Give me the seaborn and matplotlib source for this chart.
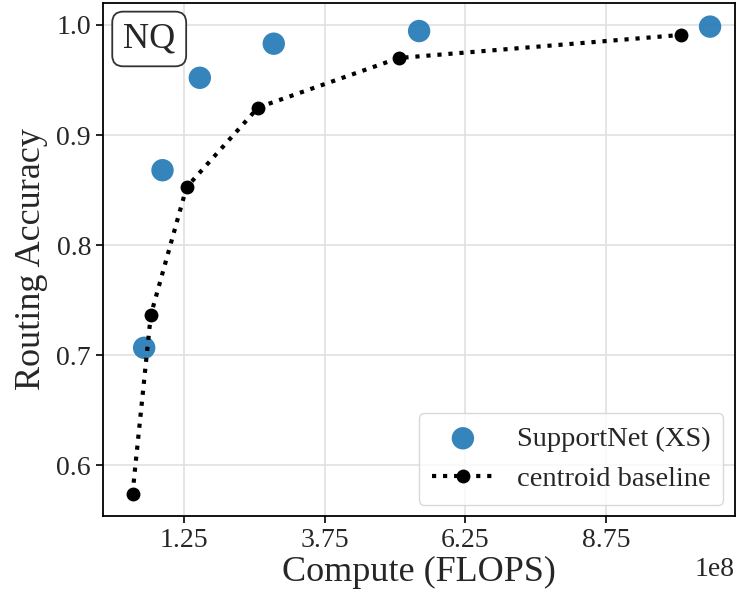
import matplotlib
matplotlib.use("Agg")
import matplotlib.pyplot as plt
import seaborn as sns
import numpy as np
import pandas as pd

# Data (compute in FLOPS, accuracy)
supportnet_flops = [0.544e8, 0.870e8, 1.533e8, 2.847e8, 5.43e8, 10.60e8]
supportnet_acc = [0.7066, 0.868, 0.952, 0.983, 0.9945, 0.9985]
centroid_flops = [0.337e8, 0.662e8, 1.297e8, 2.569e8, 5.07e8, 10.09e8]
centroid_acc = [0.574, 0.7364, 0.8525, 0.925, 0.970, 0.991]
x_ticks = [1.25e8, 3.75e8, 6.25e8, 8.75e8]
y_ticks = [0.6, 0.7, 0.8, 0.9, 1.0]

sns.set_theme(style="ticks")
plt.rcParams['font.family'] = ['Liberation Serif', 'DejaVu Serif']
plt.rcParams['mathtext.fontset'] = 'stix'

fig, ax = plt.subplots(figsize=(7.4, 5.96), dpi=100)

df_s = pd.DataFrame({"flops": supportnet_flops, "acc": supportnet_acc})
df_c = pd.DataFrame({"flops": centroid_flops, "acc": centroid_acc})

sns.scatterplot(data=df_s, x="flops", y="acc", ax=ax, s=260, color="#1f77b4",
                alpha=0.9, edgecolor="none", label="SupportNet (XS)", zorder=3)
sns.lineplot(data=df_c, x="flops", y="acc", ax=ax, color="black", linestyle=":",
             linewidth=3, marker="o", markersize=10, markeredgewidth=0,
             label="centroid baseline", zorder=4)

ax.set_xlim(-0.19e8, 11.04e8)
ax.set_ylim(0.5536, 1.02)
ax.set_xticks(x_ticks)
ax.set_yticks(y_ticks)
ax.ticklabel_format(axis='x', style='sci', scilimits=(0, 0))
ax.xaxis.get_offset_text().set_fontsize(20)
ax.tick_params(axis='both', labelsize=20, length=5, width=1.2, color='black', direction='out')
ax.grid(True, color='#e0e0e0', linewidth=1.2)
ax.set_axisbelow(True)
for sp in ax.spines.values():
    sp.set_visible(True)
    sp.set_color('black')
    sp.set_linewidth(1.3)

ax.set_xlabel("Compute (FLOPS)", fontsize=26, labelpad=2)
ax.set_ylabel("Routing Accuracy", fontsize=26, labelpad=6)

ax.text(0.032, 0.962, "NQ", transform=ax.transAxes, fontsize=26, va='top', ha='left',
        bbox=dict(boxstyle="round,pad=0.3", facecolor="white", edgecolor="#333333", linewidth=1.3))

leg = ax.legend(loc="lower right", fontsize=20.5, frameon=True, borderpad=0.45,
                handlelength=2.2, labelspacing=0.5, borderaxespad=0.4)
leg.get_frame().set_edgecolor('#d0d0d0')

fig.subplots_adjust(left=0.139, right=0.993, top=0.995, bottom=0.134)
fig.savefig("out.png", dpi=100)
